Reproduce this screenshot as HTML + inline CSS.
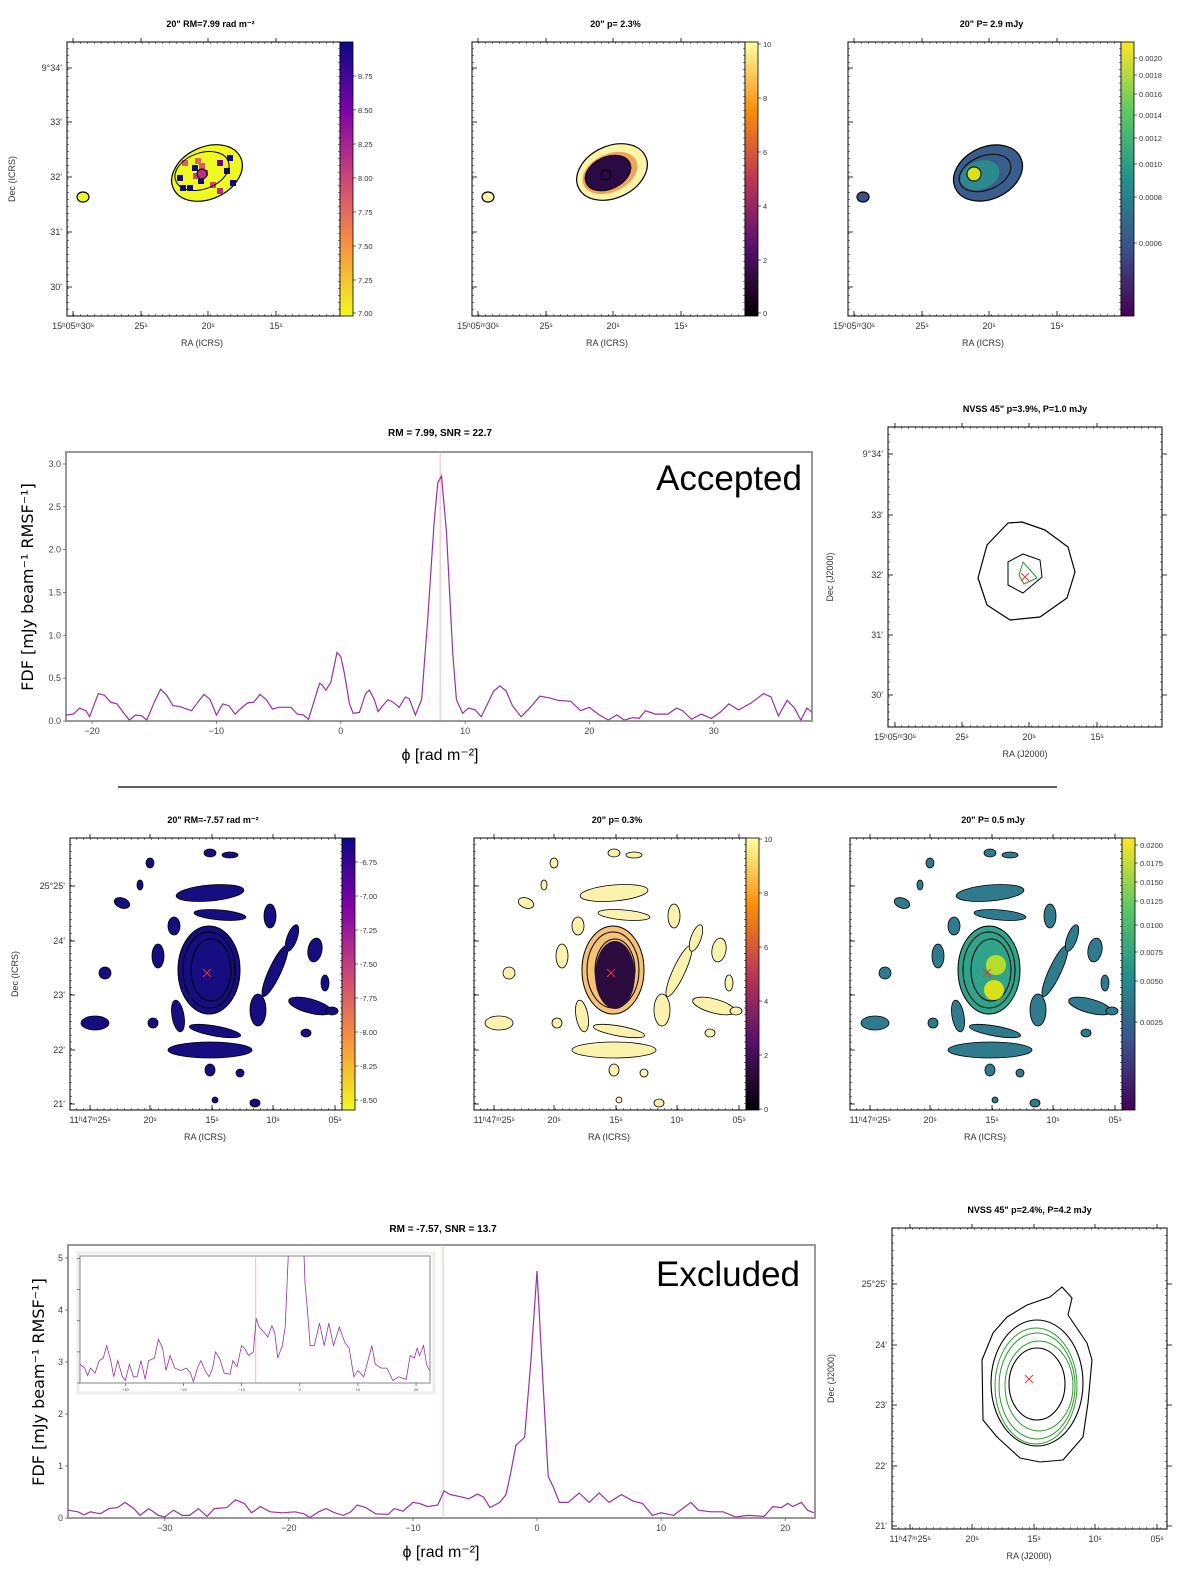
<!DOCTYPE html>
<html><head><meta charset="utf-8">
<style>
html,body{margin:0;padding:0;background:#fff;}
svg{display:block;font-family:"Liberation Sans",sans-serif;}
</style></head>
<body>
<svg id="fig" width="1200" height="1581" viewBox="0 0 1200 1581" xmlns="http://www.w3.org/2000/svg">
<defs>
<linearGradient id="gPlasma" x1="0" y1="1" x2="0" y2="0">
<stop offset="0" stop-color="#f0f921"/><stop offset="0.25" stop-color="#f89540"/><stop offset="0.5" stop-color="#cc4778"/><stop offset="0.75" stop-color="#7e03a8"/><stop offset="1" stop-color="#0d0887"/></linearGradient>
<linearGradient id="gInferno" x1="0" y1="1" x2="0" y2="0">
<stop offset="0" stop-color="#000004"/><stop offset="0.25" stop-color="#57106e"/><stop offset="0.5" stop-color="#bc3754"/><stop offset="0.75" stop-color="#f98e09"/><stop offset="1" stop-color="#fcffa4"/></linearGradient>
<linearGradient id="gViridis" x1="0" y1="1" x2="0" y2="0">
<stop offset="0" stop-color="#440154"/><stop offset="0.25" stop-color="#3b528b"/><stop offset="0.5" stop-color="#21918c"/><stop offset="0.75" stop-color="#5ec962"/><stop offset="1" stop-color="#fde725"/></linearGradient>
<clipPath id="clipF1"><rect x="66" y="452" width="746" height="269"/></clipPath>
<clipPath id="clipF2"><rect x="68" y="1245" width="747" height="273"/></clipPath>
<clipPath id="clipIn"><rect x="80" y="1256" width="350" height="127"/></clipPath>
</defs>
<g id="fdfs"></g>
<g id="maps"></g>
<line x1="118" y1="787" x2="1057" y2="787" stroke="#000" stroke-width="1.3"/>
</svg>
<script>
const NS="http://www.w3.org/2000/svg";
function mk(parent,tag,attrs,text){const e=document.createElementNS(NS,tag);for(const k in attrs)e.setAttribute(k,attrs[k]);if(text!==undefined)e.textContent=text;parent.appendChild(e);return e;}

// ===== FDF chart 1 data (Accepted) =====
const phi1=[-22.1,-21.5,-21,-20.5,-20.2,-19.5,-19,-18.5,-18,-17.5,-17,-16.5,-16,-15.6,-15,-14.5,-14,-13.5,-13,-12,-11.5,-11,-10.5,-10,-9.5,-9,-8.5,-8,-7.5,-7,-6.5,-6,-5.5,-5,-4,-3.5,-3,-2.6,-2,-1.7,-1.5,-1.2,-0.8,-0.3,0,0.3,0.7,1,1.5,2,2.3,2.7,3,3.5,3.8,4.2,4.7,5.2,5.5,6,6.5,7,7.5,7.8,8.1,8.5,9,9.3,9.8,10.3,10.8,11.3,11.8,12.3,12.8,13.3,13.8,14.5,15.2,16,16.8,17.5,18.5,19.3,20,20.7,21.5,22.2,22.8,23.5,24,24.5,25.3,26.3,27,27.5,28.2,29,29.8,30.5,31.2,32,33,34,34.6,35.2,35.9,36.5,37,37.5,37.9];
const fdf1=[0.07,0.08,0.15,0.12,0.05,0.32,0.30,0.22,0.20,0.10,0.01,0.07,0.06,0.01,0.22,0.37,0.30,0.18,0.17,0.12,0.22,0.31,0.25,0.07,0.20,0.18,0.08,0.15,0.21,0.22,0.31,0.25,0.14,0.16,0.16,0.08,0.07,0.02,0.30,0.44,0.42,0.36,0.45,0.80,0.75,0.55,0.20,0.09,0.10,0.32,0.36,0.25,0.11,0.20,0.25,0.22,0.16,0.28,0.26,0.07,0.25,1.2,2.3,2.78,2.86,2.2,0.8,0.25,0.09,0.15,0.13,0.05,0.20,0.35,0.41,0.35,0.18,0.05,0.15,0.29,0.27,0.24,0.23,0.12,0.16,0.08,0.01,0.07,0.01,0.04,0.03,0.12,0.08,0.08,0.15,0.12,0.02,0.08,0.03,0.10,0.20,0.13,0.21,0.32,0.28,0.06,0.24,0.15,0.01,0.15,0.10];
const xTicks1=[-20,-10,0,10,20,30];
const yTicks1=[0.0,0.5,1.0,1.5,2.0,2.5,3.0];
const rm1=7.99;

// ===== FDF chart 2 data (Excluded) =====
const phi2=[-37.8,-37,-36.5,-36,-35.2,-34.5,-33.8,-33.2,-32.5,-32,-31.3,-30.5,-30,-29.3,-28.6,-28,-27.3,-26.6,-26,-25,-24.3,-23.6,-23,-22.3,-21.5,-20.5,-19.5,-18.8,-18.3,-17.6,-17,-16.3,-15.6,-15,-14.5,-13.8,-13,-12,-11.5,-10.8,-10,-9.5,-8.8,-8,-7.5,-7,-6,-5.5,-4.8,-4.3,-3.8,-3,-2.5,-2.1,-1.7,-1,-0.5,0,0.5,0.9,1.3,1.8,2.5,3.4,4.2,5,5.8,6.8,7.8,8.5,9.3,10,11,12.4,13,14,15,16,17,18.3,19,19.7,20.2,20.6,21.3,21.8,22.3];
const fdf2=[0.15,0.12,0.06,0.12,0.08,0.18,0.20,0.30,0.18,0.05,0.18,0.05,0.02,0.15,0.05,0.05,0.18,0.03,0.18,0.20,0.35,0.28,0.10,0.22,0.12,0.10,0.12,0.08,0.01,0.12,0.18,0.10,0.05,0.12,0.25,0.20,0.08,0.07,0.18,0.13,0.30,0.28,0.22,0.25,0.52,0.45,0.40,0.37,0.46,0.40,0.20,0.30,0.45,0.9,1.4,1.55,3.0,4.75,2.5,0.8,0.6,0.30,0.30,0.48,0.30,0.48,0.30,0.45,0.32,0.28,0.05,0.10,0.05,0.30,0.15,0.12,0.12,0.02,0.05,0.03,0.22,0.20,0.28,0.22,0.30,0.15,0.10];
const xTicks2=[-30,-20,-10,0,10,20];
const yTicks2=[0,1,2,3,4,5];
const inYTicks=[0.0,0.25,0.5,0.75,1.0];
const rm2=-7.57;

const G=document.getElementById('fdfs');
function fdfChart(o){
  const g=mk(G,'g',{});
  
  
  const sx=v=>o.x0+(v-o.xmin)/(o.xmax-o.xmin)*(o.x1-o.x0);
  const sy=v=>o.y1-(v-o.ymin)/(o.ymax-o.ymin)*(o.y1-o.y0);
  const fr=mk(g,'rect',{x:o.x0,y:o.y0,width:o.x1-o.x0,height:o.y1-o.y0,fill:'#fff',stroke:'#999','stroke-width':o.sw||2});
  
  
  const rl=mk(g,'line',{x1:sx(o.rm),x2:sx(o.rm),y1:o.y0,y2:o.y1,stroke:'#f4a5a5','stroke-width':0.8});
  
  
  let d='';o.phi.forEach((p,i)=>{d+=(i?'L':'M')+sx(p).toFixed(1)+','+sy(Math.min(o.vals[i],o.ymax*1.3)).toFixed(1);});
  const ln=mk(g,'path',{d:d,fill:'none',stroke:'#9a2fa6','stroke-width':o.lw||1.2,'clip-path':'url(#'+o.clip+')'});
  
  
  o.xt.forEach(t=>{
    mk(g,'line',{x1:sx(t),x2:sx(t),y1:o.y1,y2:o.y1+3,stroke:'#666','stroke-width':0.8});
    const tl=mk(g,'text',{x:sx(t),y:o.y1+o.fs+4,'font-size':o.fs,'text-anchor':'middle',fill:'#444'},t<0?'\u2212'+(-t):String(t));
    
    
  });
  o.yt.forEach(t=>{
    mk(g,'line',{x1:o.x0-3,x2:o.x0,y1:sy(t),y2:sy(t),stroke:'#666','stroke-width':0.8});
    if(o.ylab){const tl=mk(g,'text',{x:o.x0-5,y:sy(t)+3,'font-size':o.fs,'text-anchor':'end',fill:'#444'},o.fmt(t));
    
    }
  });
  return g;
}
fdfChart({name:'fdf-accepted',x0:66,x1:812,y0:452,y1:721,xmin:-22.1,xmax:37.9,ymin:0,ymax:3.14,phi:phi1,vals:fdf1,xt:xTicks1,yt:yTicks1,rm:rm1,clip:'clipF1',fs:9,ylab:true,fmt:t=>t.toFixed(1)});
fdfChart({name:'fdf-excluded',x0:68,x1:815,y0:1245,y1:1518,xmin:-37.8,xmax:22.4,ymin:0,ymax:5.25,phi:phi2,vals:fdf2,xt:xTicks2,yt:yTicks2,rm:rm2,clip:'clipF2',fs:9,ylab:true,fmt:t=>String(t)});
const sh=mk(G,'rect',{x:78,y:1253,width:356,height:140,fill:'#fff',stroke:'#eee','stroke-width':3});


fdfChart({name:'fdf-inset',x0:80,x1:430,y0:1256,y1:1383,xmin:-37.8,xmax:22.4,ymin:0,ymax:1.02,phi:phi2,vals:fdf2,xt:xTicks2,yt:inYTicks,rm:rm2,clip:'clipIn',fs:4,ylab:false,sw:1.2,lw:0.8,fmt:t=>String(t)});

function txt(parent,name,x,y,s,attrs){const t=mk(parent,'text',Object.assign({x:x,y:y},attrs),s);return t;}
txt(G,'fdf-accepted-title',440,436,'RM = 7.99, SNR = 22.7',{'font-size':10,'font-weight':'bold','text-anchor':'middle'});
txt(G,'fdf-excluded-title',443,1232,'RM = -7.57, SNR = 13.7',{'font-size':10,'font-weight':'bold','text-anchor':'middle'});
txt(G,'accepted-label',802,490,'Accepted',{'font-size':35,'text-anchor':'end'});
txt(G,'excluded-label',800,1286,'Excluded',{'font-size':35,'text-anchor':'end'});
txt(G,'y-axis-title',0,0,'FDF [mJy beam\u207B\u00B9 RMSF\u207B\u00B9]',{'font-size':16,'text-anchor':'middle',transform:'translate(33,587) rotate(-90)','font-family':'DejaVu Sans, sans-serif'});
txt(G,'y-axis-title',0,0,'FDF [mJy beam\u207B\u00B9 RMSF\u207B\u00B9]',{'font-size':16,'text-anchor':'middle',transform:'translate(44,1382) rotate(-90)','font-family':'DejaVu Sans, sans-serif'});
txt(G,'x-axis-title',440,760,'\u03D5 [rad m\u207B\u00B2]',{'font-size':16,'text-anchor':'middle'});
txt(G,'x-axis-title',441,1557,'\u03D5 [rad m\u207B\u00B2]',{'font-size':16,'text-anchor':'middle'});

// ===== Maps =====
const M=document.getElementById('maps');
function mapPanel(o){
  const g=mk(M,'g',{});
  
  
  const W=o.w,H=o.h,X=o.x,Y=o.y;
  mk(g,'rect',{x:X,y:Y,width:W,height:H,fill:'#fff'});
  if(o.draw)o.draw(g,X,Y);
  mk(g,'rect',{x:X,y:Y,width:W,height:H,fill:'none',stroke:'#000','stroke-width':1});
  for(let i=1;i<40;i++){const xx=X+i*W/40;mk(g,'line',{x1:xx,x2:xx,y1:Y,y2:Y+2,stroke:'#000','stroke-width':0.5});mk(g,'line',{x1:xx,x2:xx,y1:Y+H,y2:Y+H-2,stroke:'#000','stroke-width':0.5});
    const yy=Y+i*H/40;mk(g,'line',{x1:X,x2:X+2,y1:yy,y2:yy,stroke:'#000','stroke-width':0.5});mk(g,'line',{x1:X+W,x2:X+W-2,y1:yy,y2:yy,stroke:'#000','stroke-width':0.5});}
  o.dec.forEach(([s,y])=>{mk(g,'line',{x1:X,x2:X+5,y1:y,y2:y,stroke:'#000','stroke-width':0.8});mk(g,'line',{x1:X+W,x2:X+W+(o.cb?0:5),y1:y,y2:y,stroke:'#000','stroke-width':0.8});if(o.declab!==false)txt(g,'dec-tick-label',X-5,y+3,s,{'font-size':9,'text-anchor':'end',fill:'#333'});});
  o.ra.forEach(([s,x])=>{mk(g,'line',{x1:x,x2:x,y1:Y+H,y2:Y+H-5,stroke:'#000','stroke-width':0.8});mk(g,'line',{x1:x,x2:x,y1:Y,y2:Y-4,stroke:'#000','stroke-width':0.8});txt(g,'ra-tick-label',x,Y+H+13,s,{'font-size':9,'text-anchor':'middle',fill:'#333'});});
  txt(g,'panel-title',X+W/2+(o.cb?7:0),Y-15,o.title,{'font-size':9,'font-weight':'bold','text-anchor':'middle'});
  txt(g,'ra-axis-title',X+o.ralx,Y+H+30,o.ral,{'font-size':9,'text-anchor':'middle',fill:'#333'});
  if(o.decl)txt(g,'dec-axis-title',0,0,o.decl,{'font-size':9,'text-anchor':'middle',fill:'#333',transform:'translate('+(X-o.decx)+','+(Y+H/2)+') rotate(-90)'});
  if(o.cb){
    const cbr=mk(g,'rect',{x:X+W,y:Y,width:13,height:H,fill:'url(#'+o.cb+')',stroke:'#000','stroke-width':0.8});
    
    
    o.cbl.forEach(([s,y])=>{mk(g,'line',{x1:X+W+13,x2:X+W+16,y1:y,y2:y,stroke:'#000','stroke-width':0.6});txt(g,'colorbar-tick-label',X+W+18,y+3,s,{'font-size':7.5,fill:'#333'});});
  }
}
const sup=(h,m,s)=>h+'\u02B0'+m+'\u1D50'+s+'\u02E2';
const dec1=[["9\u00B034'",68],["33'",122],["32'",177],["31'",232],["30'",287]];
const ra1=[[sup('15','05','30'),6],['25\u02E2',74],['20\u02E2',141],['15\u02E2',209]];
function shiftRa(arr,x){return arr.map(([s,o])=>[s,x+o]);}
function ell(g,cx,cy,rx,ry,rot,fill,stroke,sw){return mk(g,'ellipse',{cx:cx,cy:cy,rx:rx,ry:ry,transform:'rotate('+rot+' '+cx+' '+cy+')',fill:fill,stroke:stroke||'none','stroke-width':sw||1});}
function cross(g,x,y,c){mk(g,'path',{d:`M${x-4},${y-4}L${x+4},${y+4}M${x+4},${y-4}L${x-4},${y+4}`,stroke:c,'stroke-width':1});}
function poly(g,pts,c,w){mk(g,'path',{d:'M'+pts.map(p=>p.join(',')).join('L')+'Z',fill:'none',stroke:c,'stroke-width':w,'stroke-linejoin':'round'});}

// Row 1
const P1=67,P2=472,P3=848;
mapPanel({name:'rm-map-1',x:P1,y:42,w:273,h:274,title:'20" RM=7.99 rad m\u207B\u00B2',dec:dec1,ra:shiftRa(ra1,P1),ral:'RA (ICRS)',ralx:135,decl:'Dec (ICRS)',decx:52,cb:'gPlasma',
 cbl:[['8.75',76],['8.50',110],['8.25',144],['8.00',178],['7.75',212],['7.50',246],['7.25',280],['7.00',313]],
 draw:(g)=>{const cx=P1+140,cy=173;ell(g,cx,cy,37,26,-25,'#f0f921','#000',1.2);
  [[-25,-13,'#d45f6a'],[-15,-8,'#0d0887'],[-30,2,'#0d0887'],[-5,-3,'#b52f8c'],[-9,5,'#0d0887'],[10,-13,'#6a00a8'],[17,-5,'#0d0887'],[-20,12,'#0d0887'],[3,9,'#cc4778'],[23,7,'#0d0887'],[-12,-15,'#e16462'],[10,15,'#b52f8c'],[-27,12,'#0d0887'],[20,-18,'#0d0887'],[-14,0,'#cc4778'],[-8,-10,'#d45f6a']].forEach(([x,y,c])=>mk(g,'rect',{x:cx+x,y:cy+y,width:6,height:6,fill:c}));
  ell(g,cx-5,cy-2,28,18,-20,'none','#000',1);ell(g,cx-5,cy+1,5,5,0,'#b52f8c','#000',1);
  ell(g,P1+16,197,6,5,0,'#f0f921','#000',1.2);}});
mapPanel({name:'p-map-1',x:P2,y:42,w:273,h:274,title:'20" p= 2.3%',dec:dec1,declab:false,ra:shiftRa(ra1,P2),ral:'RA (ICRS)',ralx:135,decl:'',decx:50,cb:'gInferno',
 cbl:[['10',44],['8',98],['6',152],['4',206],['2',260],['0',313]],
 draw:(g)=>{const cx=P2+140,cy=172;ell(g,cx,cy,37,26,-25,'#fcf5a8','#000',1.2);ell(g,cx-2,cy+1,29,19,-25,'#f3a25a','none');ell(g,cx-4,cy+1,24,16,-25,'#2a0a45','#000',1);ell(g,cx-6,cy+3,5,5,0,'none','#000',1);ell(g,P2+16,197,6,5,0,'#fcf5a8','#000',1.2);}});
mapPanel({name:'pi-map-1',x:P3,y:42,w:273,h:274,title:'20" P= 2.9 mJy',dec:dec1,declab:false,ra:shiftRa(ra1,P3),ral:'RA (ICRS)',ralx:135,decl:'',decx:50,cb:'gViridis',
 cbl:[['0.0020',58],['0.0018',75],['0.0016',94],['0.0014',115],['0.0012',138],['0.0010',164],['0.0008',197],['0.0006',243]],
 draw:(g)=>{const cx=P3+140,cy=173;ell(g,cx,cy,36,26,-25,'#3a5e8c','#000',1.2);ell(g,cx-8,cy+2,20,14,-20,'#2c8a8c','none');ell(g,cx-3,cy,27,17,-22,'none','#000',1);ell(g,cx-14,cy+1,7,7,0,'#d8e219','#000',1);ell(g,P3+15,197,6,5,0,'#3b528b','#000',1.2);}});

// NVSS 1
mapPanel({name:'nvss-map-1',x:888,y:427,w:274,h:300,title:'NVSS 45" p=3.9%, P=1.0 mJy',dec:[["9\u00B034'",454],["33'",515],["32'",575],["31'",635],["30'",695]],
 ra:[[sup('15','05','30'),895],['25\u02E2',962],['20\u02E2',1029],['15\u02E2',1097]],ral:'RA (J2000)',ralx:137,decl:'Dec (J2000)',decx:55,
 draw:(g)=>{poly(g,[[1022,522],[1045,530],[1068,547],[1075,572],[1067,598],[1040,617],[1010,620],[987,605],[978,578],[987,545],[1008,523]],'#000',1.2);
  poly(g,[[1023,554],[1040,560],[1042,577],[1023,593],[1008,585],[1008,562]],'#000',1);
  poly(g,[[1023,562],[1037,578],[1024,584],[1019,575]],'#2a9a2a',1);cross(g,1025,577,'#e33');}});

// Row 3
const dec3=[["25\u00B025'",886],["24'",941],["23'",995],["22'",1050],["21'",1104]];
const ra3=[[sup('11','47','25'),20],['20\u02E2',80],['15\u02E2',142],['10\u02E2',203],['05\u02E2',265]];
const blobs=[[140,15,6,4,0],[160,17,8,3,0],[80,25,4,5,0],[140,55,34,8,-5],[150,77,26,5,5],[205,133,6,28,25],[222,100,5,14,20],[245,112,7,12,10],[200,78,6,12,0],[240,168,22,7,15],[188,172,8,16,0],[108,178,6,16,-10],[140,212,42,8,0],[145,193,26,5,10],[35,135,6,6,0],[25,185,14,7,0],[88,118,6,12,0],[104,88,6,9,0],[52,65,8,5,20],[70,47,3,5,0],[83,185,5,5,0],[140,232,5,6,0],[170,235,4,4,0],[145,262,3,3,0],[185,265,5,4,0],[255,145,4,8,0],[262,173,6,4,0],[236,195,5,4,0]];
function row3(name,X,fill,fillC,cb,cbl,title,extra){
 mapPanel({name:name,x:X,y:838,w:272,h:272,title:title,dec:dec3,declab:X<100,ra:shiftRa(ra3,X),ral:'RA (ICRS)',ralx:135,decl:X<100?'Dec (ICRS)':'',decx:52,cb:cb,cbl:cbl,
  draw:(g)=>{blobs.forEach(([x,y,rx,ry,r])=>ell(g,X+x,838+y,rx,ry,r,fill,'#000',0.8));
   ell(g,X+139,970,31,44,0,fillC,'#000',1);ell(g,X+139,970,26,38,0,'none','#000',1);ell(g,X+141,970,20,31,0,'none','#000',1);
   if(extra)extra(g,X);cross(g,X+137,973,'#e33');}});
}
row3('rm-map-2',70,'#160d80','#160d80','gPlasma',[['-6.75',862],['-7.00',896],['-7.25',930],['-7.50',964],['-7.75',998],['-8.00',1032],['-8.25',1066],['-8.50',1100]],'20" RM=-7.57 rad m\u207B\u00B2');
row3('p-map-2',474,'#fbf3ad','#f6c275','gInferno',[['10',839],['8',893],['6',947],['4',1001],['2',1055],['0',1109]],'20" p= 0.3%',(g,X)=>{ell(g,X+141,975,20,34,0,'#2c0b3e','none');});
row3('pi-map-2',850,'#2f7a8c','#2fa48a','gViridis',[['0.0200',845],['0.0175',863],['0.0150',882],['0.0125',901],['0.0100',925],['0.0075',952],['0.0050',981],['0.0025',1022]],'20" P= 0.5 mJy',(g,X)=>{ell(g,X+146,965,10,10,0,'#b5de2b','none');ell(g,X+144,990,10,10,0,'#d8e219','none');});

// NVSS 2
mapPanel({name:'nvss-map-2',x:892,y:1228,w:275,h:301,title:'NVSS 45" p=2.4%, P=4.2 mJy',dec:[["25\u00B025'",1284],["24'",1345],["23'",1405],["22'",1466],["21'",1526]],
 ra:[[sup('11','47','25'),910],['20\u02E2',972],['15\u02E2',1034],['10\u02E2',1095],['05\u02E2',1157]],ral:'RA (J2000)',ralx:137,decl:'Dec (J2000)',decx:58,
 draw:(g)=>{poly(g,[[1062,1287],[1072,1298],[1068,1315],[1087,1343],[1092,1360],[1088,1403],[1083,1437],[1063,1460],[1040,1462],[1020,1458],[997,1437],[983,1420],[982,1360],[993,1333],[1007,1317],[1027,1305],[1050,1297]],'#000',1.1);
  ell(g,1037,1383,46,63,0,'none','#000',1.1);ell(g,1037,1384,28,36,0,'none','#000',1.1);
  ell(g,1036,1386,41,58,0,'none','#2a9a2a',1);ell(g,1037,1386,38,53,0,'none','#2a9a2a',1);ell(g,1039,1386,34,45,0,'none','#2a9a2a',1);cross(g,1029,1379,'#e33');}});
</script>
</body></html>
